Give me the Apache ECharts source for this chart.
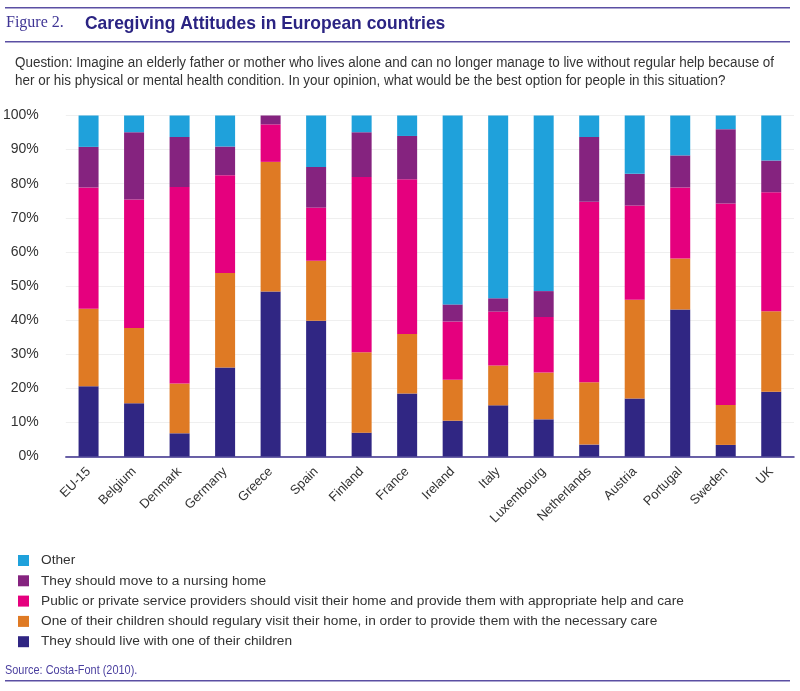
<!DOCTYPE html>
<html>
<head>
<meta charset="utf-8">
<script src="https://cdn.jsdelivr.net/npm/echarts@6/dist/echarts.min.js"></script>
<style>
  html, body { margin: 0; padding: 0; background: #fff; }
  #chart { width: 800px; height: 691px; }
</style>
</head>
<body>
<div id="chart"></div>
<script>
// countries along the x axis
var countries = ['EU-15', 'Belgium', 'Denmark', 'Germany', 'Greece', 'Spain', 'Finland', 'France',
    'Ireland', 'Italy', 'Luxembourg', 'Netherlands', 'Austria', 'Portugal', 'Sweden', 'UK'];

// shares in % (bottom of the stack first)
var live_with_child = [20.6, 15.6, 6.8, 26.1, 48.4, 39.8, 7.0, 18.5, 10.5, 15.0, 10.9, 3.5, 17.0, 43.1, 3.4, 19.0];
var child_visits    = [22.7, 22.1, 14.6, 27.7, 38.0, 17.6, 23.6, 17.4, 12.0, 11.7, 13.7, 18.3, 29.0, 15.0, 11.7, 23.6];
var service_visits  = [35.6, 37.7, 57.6, 28.7, 11.0, 15.6, 51.4, 45.4, 17.1, 15.8, 16.3, 52.9, 27.6, 20.8, 59.1, 34.9];
var nursing_home    = [11.9, 19.7, 14.7, 8.4, 2.6, 11.9, 13.1, 12.7, 5.0, 3.9, 7.6, 19.0, 9.3, 9.4, 21.8, 9.3];
var other           = [9.2, 4.9, 6.3, 9.1, 0, 15.1, 4.9, 6.0, 55.4, 53.6, 51.5, 6.3, 17.1, 11.7, 4.0, 13.2];

var y_ticks = [0, 10, 20, 30, 40, 50, 60, 70, 80, 90, 100];

var names = {
    live: 'They should live with one of their children',
    child: 'One of their children should regulary visit their home, in order to provide them with the necessary care',
    service: 'Public or private service providers should visit their home and provide them with appropriate help and care',
    nursing: 'They should move to a nursing home',
    other: 'Other'
};

var sans = '"Liberation Sans", Arial, sans-serif';
var lineColor = '#5a4fa3';

function bar(name, data, color) {
    return {
        name: name,
        type: 'bar',
        stack: 'total',
        barWidth: 20,
        itemStyle: { color: color },
        data: data
    };
}

var option = {
    backgroundColor: '#fff',
    animation: false,
    grid: { left: 64, right: 6, top: 115.5, bottom: 234.5 },
    xAxis: {
        type: 'category',
        data: countries,
        axisLine: { lineStyle: { color: '#3b2f8c', width: 1.5 } },
        axisTick: { show: false },
        axisLabel: {
            rotate: 45,
            margin: 13,
            fontSize: 13,
            color: '#333',
            fontFamily: sans
        }
    },
    yAxis: {
        type: 'value',
        min: y_ticks[0],
        max: y_ticks[y_ticks.length - 1],
        interval: 10,
        axisLine: { show: false },
        axisTick: { show: false },
        splitLine: { lineStyle: { color: '#efefef', width: 1 } },
        axisLabel: {
            formatter: '{value}%',
            margin: 27,
            fontSize: 14,
            color: '#333',
            fontFamily: sans
        }
    },
    legend: {
        orient: 'vertical',
        left: 13,
        top: 548.5,
        itemWidth: 11,
        itemHeight: 11,
        itemGap: 6.3,
        icon: 'rect',
        selectedMode: false,
        data: [names.other, names.nursing, names.service, names.child, names.live],
        textStyle: { fontSize: 13.7, lineHeight: 14, color: '#333', fontFamily: sans, padding: [0, 0, 0, 7] }
    },
    graphic: [
        { type: 'rect', shape: { x: 5, y: 7, width: 785, height: 1.5 }, style: { fill: lineColor } },
        { type: 'rect', shape: { x: 5, y: 41, width: 785, height: 1.5 }, style: { fill: lineColor } },
        { type: 'rect', shape: { x: 5, y: 680, width: 785, height: 1.5 }, style: { fill: lineColor } },
        {
            type: 'text', left: 6, top: 15,
            style: { text: 'Figure 2.', fontSize: 16, fill: '#3f3595', fontFamily: '"Liberation Serif", "DejaVu Serif", serif' }
        },
        {
            type: 'text', x: 85, y: 14, scaleX: 0.92,
            style: { text: 'Caregiving Attitudes in European countries', fontSize: 19, fontWeight: 'bold', fill: '#2b2483', fontFamily: sans }
        },
        {
            type: 'text', x: 15, y: 54, scaleX: 0.96,
            style: {
                text: 'Question: Imagine an elderly father or mother who lives alone and can no longer manage to live without regular help because of\nher or his physical or mental health condition. In your opinion, what would be the best option for people in this situation?',
                fontSize: 14, lineHeight: 18, fill: '#333', fontFamily: sans
            }
        },
        {
            type: 'text', x: 5, y: 664, scaleX: 0.84,
            style: { text: 'Source: Costa-Font (2010).', fontSize: 13, fill: '#4a3f9f', fontFamily: sans }
        }
    ],
    series: [
        bar(names.live, live_with_child, '#302683'),
        bar(names.child, child_visits, '#df7a24'),
        bar(names.service, service_visits, '#e5007e'),
        bar(names.nursing, nursing_home, '#85237f'),
        bar(names.other, other, '#1fa1db')
    ]
};

var chart = echarts.init(document.getElementById('chart'));
chart.setOption(option);
</script>
</body>
</html>
